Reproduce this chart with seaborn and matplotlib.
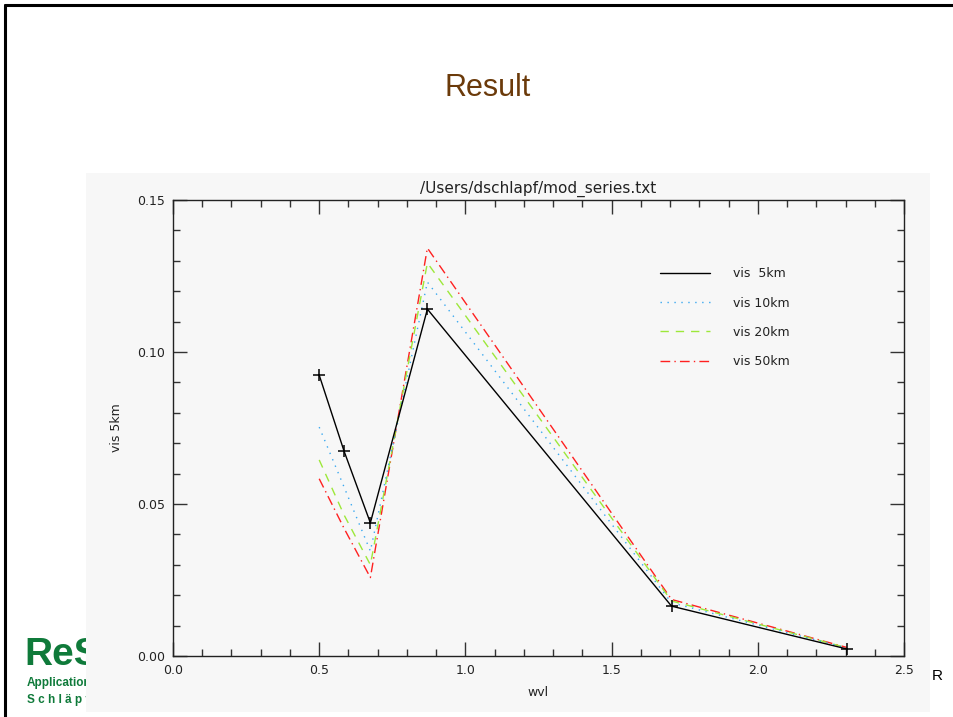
import matplotlib
matplotlib.use("Agg")
import matplotlib.pyplot as plt
import matplotlib.patches as mpatches
import matplotlib.lines as mlines
from matplotlib.ticker import MultipleLocator, FormatStrFormatter
import numpy as np
import pandas as pd
import seaborn as sns

# Wavelengths (micrometres) and modelled reflectance for each visibility
wvl = [0.50, 0.585, 0.675, 0.87, 1.705, 2.305]
vis_5km = [0.0924, 0.0674, 0.0438, 0.1141, 0.0164, 0.0023]
vis_10km = [0.0753, 0.0556, 0.0345, 0.1230, 0.0175, 0.0026]
vis_20km = [0.0645, 0.0464, 0.0300, 0.1293, 0.0181, 0.0027]
vis_50km = [0.0583, 0.0420, 0.0258, 0.1342, 0.0186, 0.0028]
series_labels = ["vis  5km", "vis 10km", "vis 20km", "vis 50km"]

sns.set_theme(style="white")
plt.rcParams["font.family"] = ["DejaVu Sans"]

fig = plt.figure(figsize=(9.54, 7.17), dpi=100)
fig.patch.set_facecolor("white")
W, H = 954.0, 717.0

def fx(px):
    return px / W

def fy(py):
    return 1 - py / H

# Slide frame (top and left rules)
fig.add_artist(mlines.Line2D([fx(5), fx(954)], [fy(5), fy(5)], color="black", lw=2.2, zorder=0.2))
fig.add_artist(mlines.Line2D([fx(5), fx(5)], [fy(5), fy(717)], color="black", lw=2.2, zorder=0.2))

# Slide heading
fig.text(fx(488), fy(88), "Result", color="#6b3a0a", fontsize=22,
         family=["Liberation Sans Narrow", "Liberation Sans", "DejaVu Sans"],
         ha="center", va="center")

# Logo text in the lower left corner (partly covered by the plot panel)
green = "#0f7a3a"
fig.text(fx(24), fy(655), "ReSe", color=green, fontsize=28, fontweight="bold",
         family=["Liberation Sans Narrow", "Liberation Sans", "DejaVu Sans"],
         ha="left", va="center", zorder=0.3)
fig.text(fx(27), fy(683), "Applications", color=green, fontsize=8.5, fontweight="bold",
         family=["Liberation Sans", "DejaVu Sans"], ha="left", va="center", zorder=0.3)
fig.text(fx(27), fy(700), "S c h l ä p f e r", color=green, fontsize=8.5, fontweight="bold",
         family=["Liberation Sans", "DejaVu Sans"], ha="left", va="center", zorder=0.3)
fig.text(fx(932), fy(676), "R", color="black", fontsize=11,
         family=["Liberation Sans", "DejaVu Sans"], ha="left", va="center", zorder=0.3)

# Light grey plot panel
fig.add_artist(mpatches.Rectangle((fx(86), fy(712)), fx(930) - fx(86), fy(173) - fy(712),
                                  transform=fig.transFigure, facecolor="#f7f7f7",
                                  edgecolor="none", zorder=1))

ax = fig.add_axes([fx(173), fy(656), fx(904) - fx(173), fy(200) - fy(656)])
ax.set_zorder(2)
ax.set_facecolor("#f7f7f7")

df = pd.DataFrame({
    "wvl": wvl * 4,
    "value": vis_5km + vis_10km + vis_20km + vis_50km,
    "series": np.repeat(series_labels, len(wvl)),
})

colors = {"vis  5km": "black", "vis 10km": "#3aa8f0",
          "vis 20km": "#9de83a", "vis 50km": "#ff2020"}
styles = {"vis  5km": "-", "vis 10km": (0, (1, 4)),
          "vis 20km": (0, (6, 5)), "vis 50km": (0, (7, 3, 1, 3))}

for name in series_labels[::-1]:
    sub = df[df["series"] == name]
    sns.lineplot(data=sub, x="wvl", y="value", ax=ax, color=colors[name],
                 linestyle=styles[name], linewidth=1.0, label=name,
                 marker="+" if name == "vis  5km" else None,
                 markersize=9, markeredgewidth=1.1, markeredgecolor="black",
                 sort=False, legend=False)

ax.set_xlim(0, 2.5)
ax.set_ylim(0, 0.15)
ax.xaxis.set_major_locator(MultipleLocator(0.5))
ax.xaxis.set_minor_locator(MultipleLocator(0.1))
ax.yaxis.set_major_locator(MultipleLocator(0.05))
ax.yaxis.set_minor_locator(MultipleLocator(0.01))
ax.xaxis.set_major_formatter(FormatStrFormatter("%.1f"))
ax.yaxis.set_major_formatter(FormatStrFormatter("%.2f"))
ax.tick_params(which="both", direction="in", top=True, right=True, bottom=True, left=True,
               color="#333333", labelsize=9, labelcolor="#222222", pad=6)
ax.tick_params(which="major", length=10, width=1)
ax.tick_params(which="minor", length=5, width=1)
for s in ax.spines.values():
    s.set_color("#222222")
    s.set_linewidth(1.0)

ax.set_xlabel("wvl", fontsize=9, color="#222222", labelpad=6)
ax.set_ylabel("vis 5km", fontsize=9, color="#222222", labelpad=10)
ax.set_title("/Users/dschlapf/mod_series.txt", fontsize=11, color="#222222", pad=5)

handles = [mlines.Line2D([], [], color=colors[n], linestyle=styles[n], linewidth=1.0)
           for n in series_labels]
ax.legend(handles, series_labels, loc="upper left", bbox_to_anchor=(0.651, 0.877),
          frameon=False, fontsize=9, handlelength=4.0, handletextpad=1.85,
          labelspacing=1.3, labelcolor="#222222", borderaxespad=0.5)

fig.savefig("out.png", dpi=100, facecolor="white")
